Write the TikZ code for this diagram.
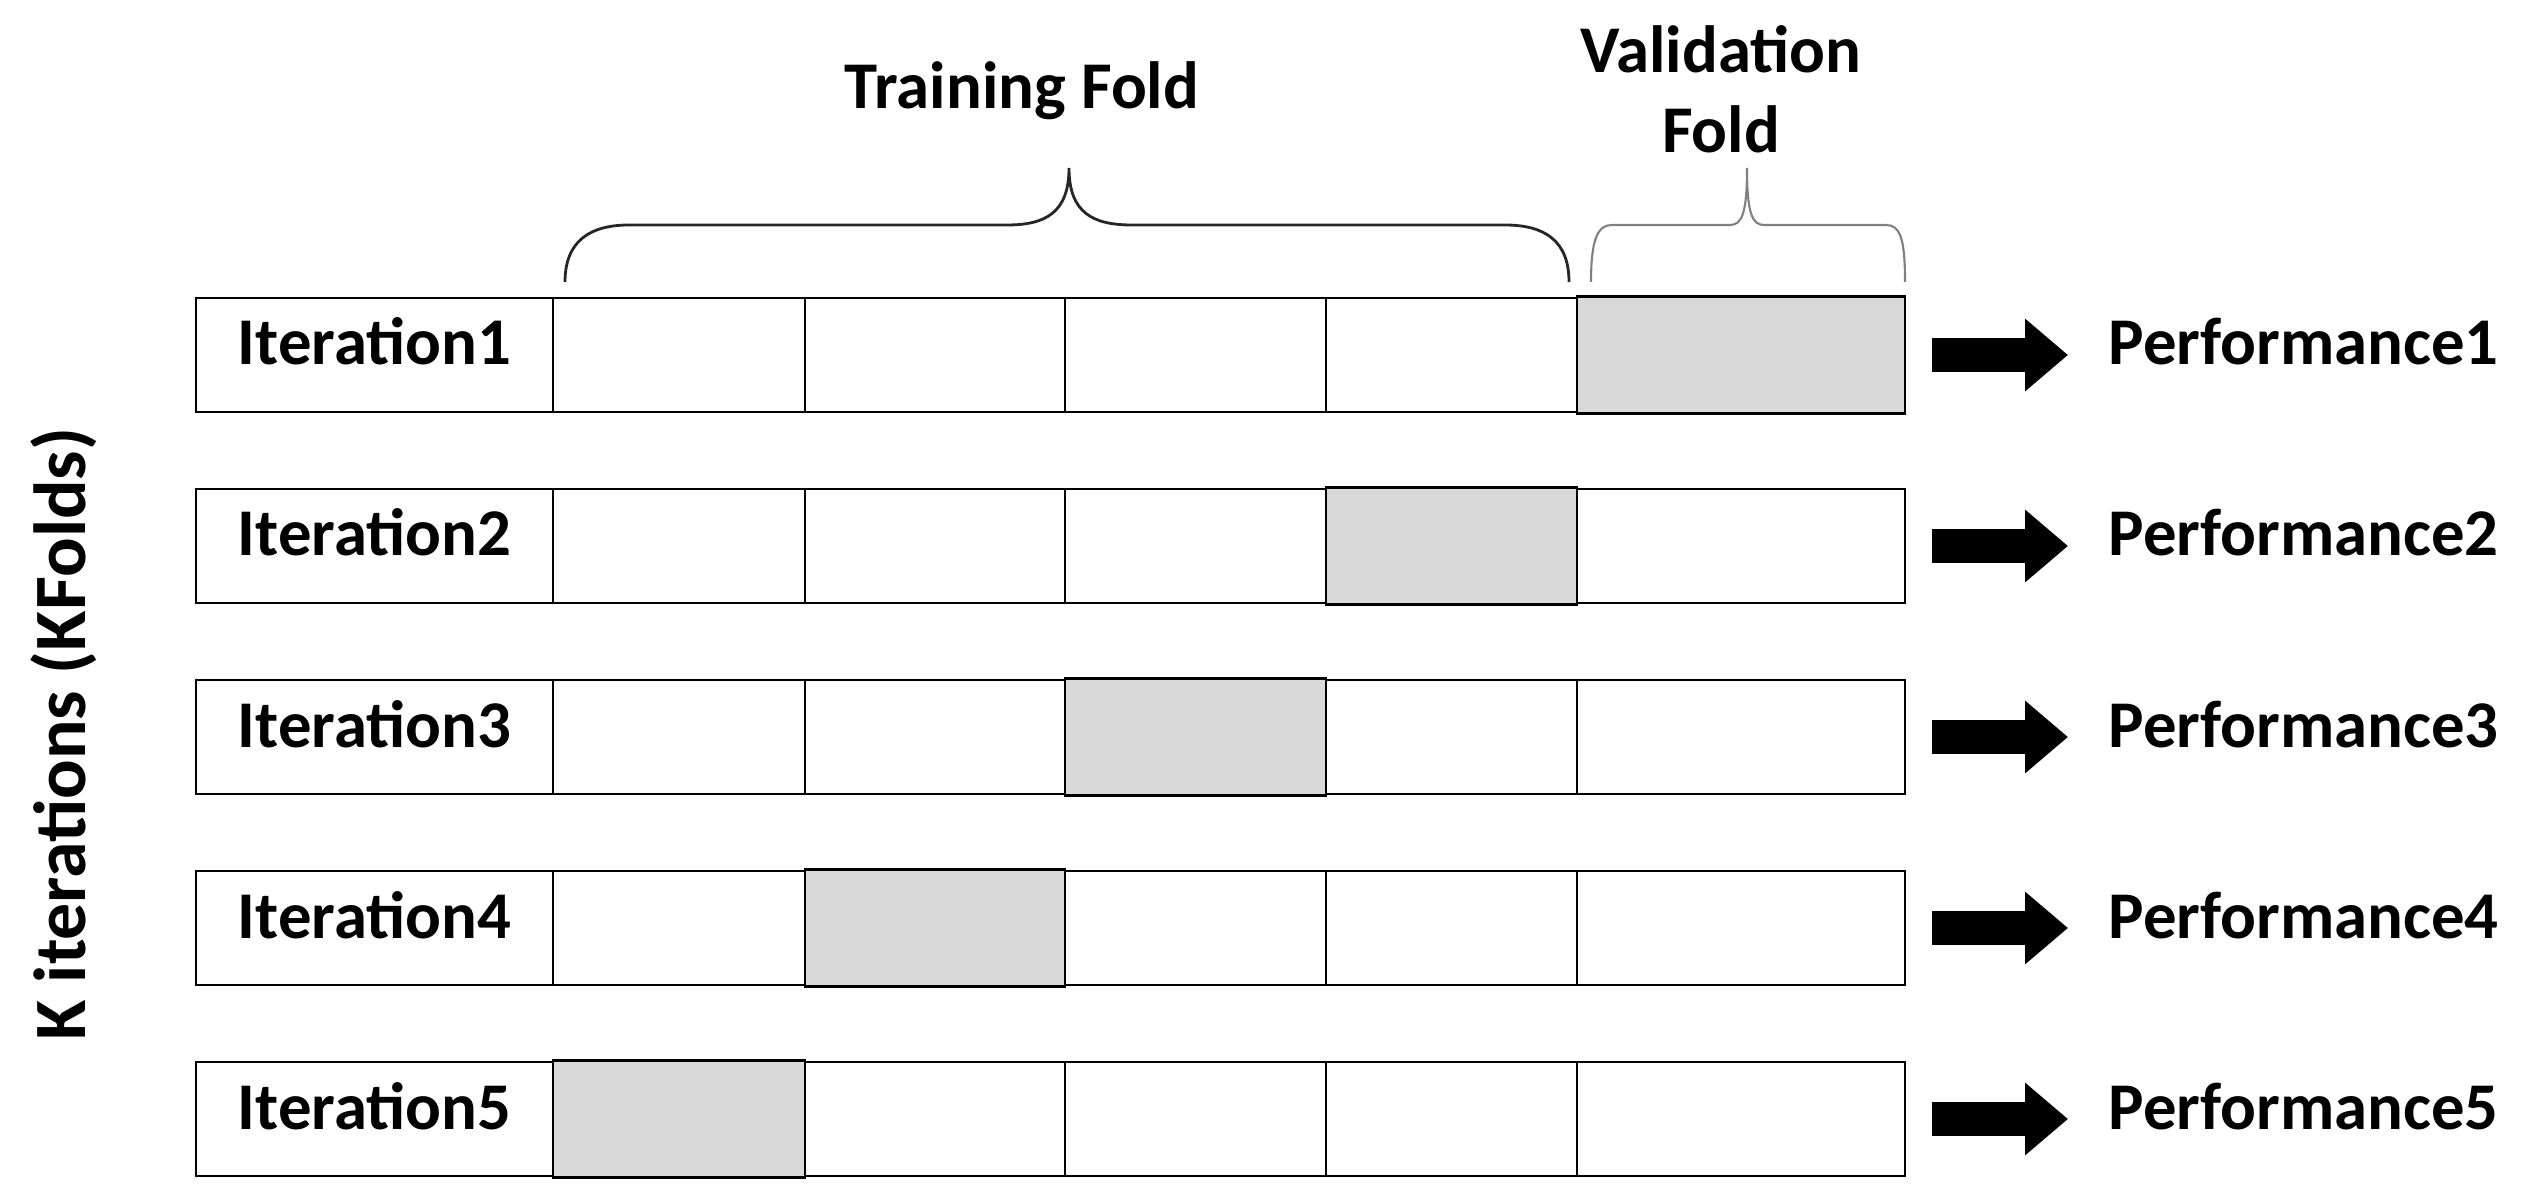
\documentclass[tikz,border=0pt]{standalone}
\usepackage{fontspec}
\setmainfont{Carlito}
\usetikzlibrary{arrows.meta,positioning}
\definecolor{valColor}{HTML}{D9D9D9}
\tikzset{
	cellline/.style={draw=black, line width=0.8pt},
	rowbox/.style={cellline, minimum width=17.09cm, minimum height=1.14cm, inner sep=0},
	itlab/.style={anchor=base, inner sep=0, font=\fontsize{19}{23}\selectfont\bfseries},
	perflab/.style={anchor=base west, inner sep=0, font=\fontsize{19}{23}\selectfont\bfseries},
	bigarrow/.style={line width=0.34cm, -{Triangle[length=0.43cm, width=0.7cm]}, shorten <=0.26cm},
	foldbrace/.style={line width=0.8pt, black!85},
	valbrace/.style={line width=0.6pt, black!50}
}
% shaded validation cell and the cell dividers of one row
\newcommand{\foldcells}[3]{%
	\filldraw[cellline, fill=valColor] (#2,0 |- #1.south) rectangle (#3,0 |- #1.north);
	\foreach \x in {5.53,8.05,10.65,13.26,15.77}
		\draw[cellline] (\x,0 |- #1.south) -- (\x,0 |- #1.north);
}
\begin{document}
\begin{tikzpicture}
	\useasboundingbox (0,0) rectangle (25.23,12.03);
	\node[rowbox] (r1) at (10.505, 8.48) {};
	\node[rowbox] (r2) at (10.505, 6.57) {};
	\node[rowbox] (r3) at (10.505, 4.66) {};
	\node[rowbox] (r4) at (10.505, 2.75) {};
	\node[rowbox] (r5) at (10.505, 0.84) {};
	\foldcells{r1}{15.77}{19.05}
	\foldcells{r2}{13.26}{15.77}
	\foldcells{r3}{10.65}{13.26}
	\foldcells{r4}{8.05}{10.65}
	\foldcells{r5}{5.53}{8.05}
	\node[itlab] (it1) at (3.745, 8.38) {Iteration1};
	\node[itlab] (it2) at (3.745, 6.47) {Iteration2};
	\node[itlab] (it3) at (3.745, 4.56) {Iteration3};
	\node[itlab] (it4) at (3.745, 2.65) {Iteration4};
	\node[itlab] (it5) at (3.745, 0.74) {Iteration5};
	\node[perflab] (p1) at (21.08, 8.38) {Performance1};
	\node[perflab] (p2) at (21.08, 6.47) {Performance2};
	\node[perflab] (p3) at (21.08, 4.56) {Performance3};
	\node[perflab] (p4) at (21.08, 2.65) {Performance4};
	\node[perflab] (p5) at (21.08, 0.74) {Performance5};
	\draw[bigarrow] (r1.east) -- ([xshift=-0.4cm] r1.east -| p1.west);
	\draw[bigarrow] (r2.east) -- ([xshift=-0.4cm] r2.east -| p2.west);
	\draw[bigarrow] (r3.east) -- ([xshift=-0.4cm] r3.east -| p3.west);
	\draw[bigarrow] (r4.east) -- ([xshift=-0.4cm] r4.east -| p4.west);
	\draw[bigarrow] (r5.east) -- ([xshift=-0.4cm] r5.east -| p5.west);
	\node[rotate=90, font=\fontsize{21}{25}\selectfont\bfseries] (kfolds) at (0.64, 4.69) {K iterations (KFolds)};
	% braces over the folds
	\draw[foldbrace] (5.65,9.21) .. controls (5.65,9.62) and (5.90,9.78) .. (6.29,9.78) -- (10.07,9.78)
		.. controls (10.45,9.78) and (10.69,9.90) .. (10.69,10.35)
		.. controls (10.69,9.90) and (10.93,9.78) .. (11.32,9.78) -- (15.05,9.78)
		.. controls (15.45,9.78) and (15.69,9.62) .. (15.69,9.21);
	\draw[valbrace] (15.91,9.21) .. controls (15.91,9.65) and (15.98,9.78) .. (16.12,9.78) -- (17.30,9.78)
		.. controls (17.42,9.78) and (17.47,9.90) .. (17.47,10.35)
		.. controls (17.47,9.90) and (17.52,9.78) .. (17.64,9.78) -- (18.86,9.78)
		.. controls (19.00,9.78) and (19.05,9.65) .. (19.05,9.21);
	\node[itlab] (trainfold) at (10.22, 10.94) {Training Fold};
	\node[itlab, align=center] (valfold) at (17.21, 10.50) {Validation\\Fold};
\end{tikzpicture}
\end{document}
